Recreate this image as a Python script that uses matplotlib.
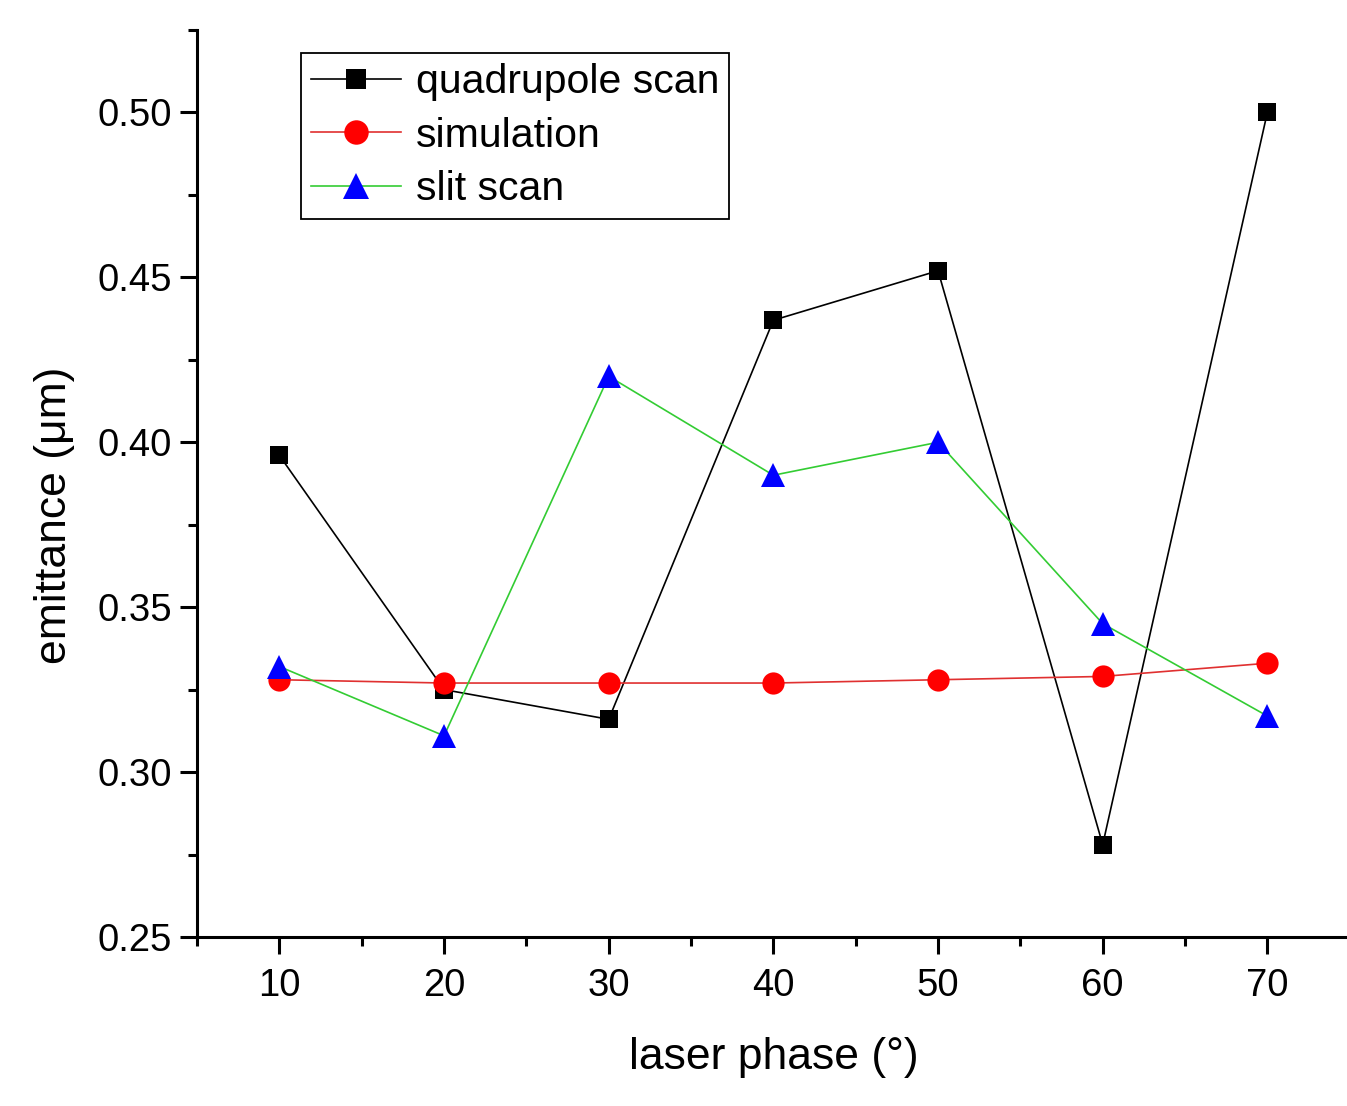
import matplotlib
matplotlib.use('Agg')
import matplotlib.pyplot as plt
from matplotlib.ticker import MultipleLocator
import numpy as np

plt.rcParams['font.family'] = ['Liberation Sans', 'DejaVu Sans']

# datos
phase = [10, 20, 30, 40, 50, 60, 70]
quad_scan = [0.396, 0.325, 0.316, 0.437, 0.452, 0.278, 0.500]
simulation = [0.328, 0.327, 0.327, 0.327, 0.328, 0.329, 0.333]
slit_scan = [0.332, 0.311, 0.420, 0.390, 0.400, 0.345, 0.317]

fig = plt.figure(figsize=(13.47, 11.06), dpi=100)
ax = fig.add_axes([0.1463, 0.1528, 0.8557, 0.8201])

ax.plot(phase, quad_scan, color='black', linewidth=1.2, marker='s',
        markersize=13, markeredgewidth=0, label='quadrupole scan')
ax.plot(phase, simulation, color='#e03030', linewidth=1.2, marker='o',
        markersize=16, markerfacecolor='red', markeredgewidth=0, label='simulation')
ax.plot(phase, slit_scan, color='#33cc33', linewidth=1.2, marker='^',
        markersize=17, markerfacecolor='blue', markeredgewidth=0, label='slit scan')

ax.set_xlim(5, 75)
ax.set_ylim(0.25, 0.525)
ax.xaxis.set_major_locator(MultipleLocator(10))
ax.xaxis.set_minor_locator(MultipleLocator(5))
ax.yaxis.set_major_locator(MultipleLocator(0.05))
ax.yaxis.set_minor_locator(MultipleLocator(0.025))
ax.yaxis.set_major_formatter(plt.FormatStrFormatter('%.2f'))

ax.spines['top'].set_visible(False)
ax.spines['right'].set_visible(False)
for s in ['left', 'bottom']:
    ax.spines[s].set_linewidth(2.2)

ax.tick_params(which='major', direction='out', length=12, width=2.2, labelsize=27.5)
ax.tick_params(axis='y', which='major', pad=6)
ax.tick_params(axis='x', which='major', pad=10)
ax.tick_params(which='minor', direction='out', length=6.5, width=2.2)
for ln in ax.lines:
    ln.set_clip_on(False)

ax.set_xlabel('laser phase (°)', fontsize=32, labelpad=24)
ax.set_ylabel('emittance (μm)', fontsize=32)
ax.yaxis.set_label_coords(-0.106, 0.465)

leg = ax.legend(loc='upper left', bbox_to_anchor=(0.0902, 0.9746), borderaxespad=0,
                fontsize=29.5, frameon=True, fancybox=False, edgecolor='black',
                handlelength=2.2, handletextpad=0.35, labelspacing=0.38,
                borderpad=0.25, framealpha=1, markerscale=1.1)
leg.get_frame().set_linewidth(1.3)

fig.savefig('out.png', dpi=100)
